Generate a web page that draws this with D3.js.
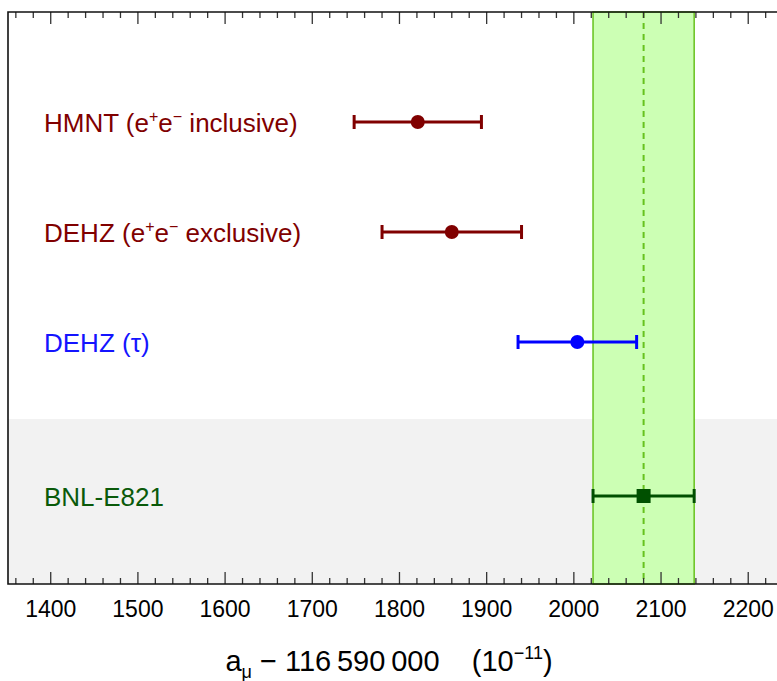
<!DOCTYPE html>
<html>
<head>
<meta charset="utf-8">
<script src="https://cdn.jsdelivr.net/npm/d3@7"></script>
<style>
  body{ margin:0; background:#fff; }
  svg{ display:block; font-family:"Liberation Sans", Arial, sans-serif; }
</style>
</head>
<body>
<div id="chart"></div>
<script>
// data
const labels = ["HMNT (e^{+}e^{\u2212} inclusive)", "DEHZ (e^{+}e^{\u2212} exclusive)", "DEHZ (\u03c4)", "BNL-E821"];
const values = [1821, 1860, 2004, 2080];
const lower  = [1748, 1780, 1936, 2022];
const upper  = [1894, 1940, 2072, 2138];
const rows   = [4, 3, 2, 0.6];
const colors = ["#800000", "#800000", "#0000ff", "#005000"];
const textColors = ["#800000", "#800000", "#1414ff", "#0a5a0a"];
const tickValues = [1400, 1500, 1600, 1700, 1800, 1900, 2000, 2100, 2200];

const width = 777, height = 681;
const plotL = 8, plotR = 777, plotT = 12, plotB = 584;

const svg = d3.select("#chart").append("svg")
    .attr("width", width)
    .attr("height", height);

const x = d3.scaleLinear().domain([1351, 2233]).range([plotL, plotR]);
const y = d3.scaleLinear().domain([-0.2, 5]).range([plotB, plotT]);

svg.append("rect").attr("width", width).attr("height", height).attr("fill", "#fff");

// gray band for experiment
svg.append("rect")
    .attr("x", plotL).attr("y", y(1.3))
    .attr("width", plotR - plotL).attr("height", plotB - y(1.3))
    .attr("fill", "#f2f2f2");

// experimental band
const bnl = 3;
svg.append("rect")
    .attr("x", x(lower[bnl])).attr("y", plotT)
    .attr("width", x(upper[bnl]) - x(lower[bnl])).attr("height", plotB - plotT)
    .attr("fill", "#ccffb4")
    .attr("stroke", "#66c21e")
    .attr("stroke-width", 1.5);

svg.append("line")
    .attr("x1", x(values[bnl])).attr("x2", x(values[bnl]))
    .attr("y1", plotT).attr("y2", plotB)
    .attr("stroke", "#66c21e")
    .attr("stroke-width", 2)
    .attr("stroke-dasharray", "6,5");

// ticks top and bottom
const minor = d3.range(1360, 2240, 20);
const frame = svg.append("g").attr("stroke", "#333").attr("stroke-width", 1.3);
minor.forEach(v => {
    let len = (v % 100 === 0) ? 12 : 6;
    frame.append("line").attr("x1", x(v)).attr("x2", x(v)).attr("y1", plotT).attr("y2", plotT + len);
    frame.append("line").attr("x1", x(v)).attr("x2", x(v)).attr("y1", plotB).attr("y2", plotB - len);
});

svg.append("path")
    .attr("d", `M${plotR},${plotT}H${plotL}V${plotB}H${plotR}`)
    .attr("fill", "none")
    .attr("stroke", "#111")
    .attr("stroke-width", 1.6);

// tick labels
svg.append("g").selectAll("text")
    .data(tickValues)
    .join("text")
    .attr("x", d => x(d))
    .attr("y", 617)
    .attr("text-anchor", "middle")
    .attr("font-size", 23)
    .attr("fill", "#000")
    .text(d => d);

// axis title
const title = svg.append("text")
    .attr("x", 389).attr("y", 671)
    .attr("text-anchor", "middle")
    .attr("font-size", 29)
    .attr("fill", "#000");
title.append("tspan").text("a");
title.append("tspan").attr("font-size", 18).attr("dy", 7).text("\u03bc");
title.append("tspan").attr("dy", -7).text(" \u2212 116\u2009590\u2009000\u00a0\u00a0\u00a0\u00a0(10");
title.append("tspan").attr("font-size", 18).attr("dy", -12).text("\u221211");
title.append("tspan").attr("dy", 12).text(")");

// labels
labels.forEach((lab, i) => {
    let t = svg.append("text")
        .attr("x", 44)
        .attr("y", y(rows[i]) + 9.5)
        .attr("font-size", 26)
        .attr("fill", textColors[i]);
    let parts = lab.split(/(\^\{[^}]*\})/);
    let shifted = false;
    parts.forEach(p => {
        if (p === "") return;
        let m = p.match(/^\^\{(.*)\}$/);
        if (m) {
            t.append("tspan").attr("font-size", 16).attr("dy", shifted ? 0 : -10).text(m[1]);
            shifted = true;
        } else {
            t.append("tspan").attr("dy", shifted ? 10 : 0).text(p);
            shifted = false;
        }
    });
});

// error bars
const bars = svg.append("g");
values.forEach((v, i) => {
    let cy = y(rows[i]);
    let g = bars.append("g").attr("stroke", colors[i]).attr("fill", colors[i]);
    g.append("line").attr("x1", x(lower[i])).attr("x2", x(upper[i]))
        .attr("y1", cy).attr("y2", cy).attr("stroke-width", 3);
    [lower[i], upper[i]].forEach(e => {
        g.append("line").attr("x1", x(e)).attr("x2", x(e))
            .attr("y1", cy - 7).attr("y2", cy + 7).attr("stroke-width", 3);
    });
    if (i === bnl) {
        g.append("rect").attr("x", x(v) - 7).attr("y", cy - 7)
            .attr("width", 14).attr("height", 14).attr("stroke", "none");
    } else {
        g.append("circle").attr("cx", x(v)).attr("cy", cy).attr("r", 7).attr("stroke", "none");
    }
});
</script>
</body>
</html>
